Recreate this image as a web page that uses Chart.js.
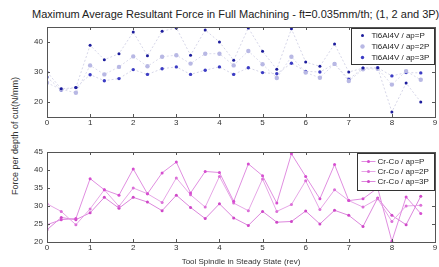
<!DOCTYPE html>
<html lang="en">
<head>
<meta charset="utf-8">
<title>Maximum Average Resultant Force</title>
<script src="https://cdn.jsdelivr.net/npm/chart.js"></script>
<style>
  body { margin: 0; background: #fff; width: 439px; height: 267px; overflow: hidden; position: relative; font-family: "Liberation Sans", Arial, sans-serif; }
  #title { position: absolute; left: 32px; top: 8px; font-size: 11px; color: #222; white-space: nowrap; }
  #ylab { position: absolute; left: 15px; top: 136px; transform: translate(-50%, -50%) rotate(-90deg); font-size: 9px; color: #333; white-space: nowrap; }
  .box { position: absolute; left: 0; width: 439px; }
  #c1box { top: 0; height: 130px; }
  #c2box { top: 135px; height: 132px; }
</style>
</head>
<body>
<div id="title">Maximum Average Resultant Force in Full Machining - ft=0.035mm/th; (1, 2 and 3P)</div>
<div id="ylab">Force per depth of cut(N/mm)</div>
<div class="box" id="c1box"><canvas id="chart1"></canvas></div>
<div class="box" id="c2box"><canvas id="chart2"></canvas></div>
<script>
// spindle revolutions
const revs = [0, 0.33, 0.67, 1, 1.33, 1.67, 2, 2.33, 2.67, 3, 3.33, 3.67, 4, 4.33, 4.67, 5, 5.33, 5.67, 6, 6.33, 6.67, 7, 7.33, 7.67, 8, 8.33, 8.67];

// Ti6Al4V
const tiP  = [30, 24.4, 24.8, 38.9, 34.1, 36.1, 43.3, 35.4, 43.6, 44.7, 35.6, 44.0, 40.0, 33.9, 44.7, 36.9, 30.9, 44.4, 33.3, 31.9, 39.3, 30.0, 31.3, 31.4, 16.7, 26.3, 20.0];
const ti2P = [26.4, 24.2, 23.1, 32.2, 29.2, 31.7, 35.2, 31.9, 35.1, 35.6, 32.8, 36.1, 36.1, 32.2, 37.0, 32.6, 28.0, 35.1, 29.8, 28.1, 32.7, 27.0, 30.9, 31.1, 25.8, 30.3, 27.4];
const ti3P = [28.3, 24.0, 24.8, 29.1, 27.1, 27.8, 30.8, 29.2, 31.1, 31.7, 29.2, 30.6, 31.7, 29.2, 31.4, 29.8, 29.4, 32.9, 30.2, 30.0, 32.7, 27.6, 31.3, 31.4, 28.7, 29.8, 29.7];

// Cr-Co
const crP  = [24.8, 26.2, 26.5, 37.6, 34.5, 33.0, 40.3, 33.4, 39.2, 42.2, 33.6, 39.6, 39.3, 31.3, 41.7, 38.4, 30.8, 44.5, 38.2, 32.0, 41.5, 31.5, 32.0, 35.0, 20.2, 32.5, 27.9];
const cr2P = [30.6, 28.5, 24.8, 29.2, 34.5, 29.9, 35.0, 33.4, 31.0, 37.8, 33.1, 29.7, 38.2, 30.8, 28.7, 37.5, 28.5, 30.4, 37.0, 29.0, 34.5, 31.5, 29.7, 32.0, 25.7, 30.0, 30.2];
const cr3P = [23.4, 26.8, 26.2, 28.1, 32.4, 29.4, 32.4, 31.1, 28.7, 33.0, 29.6, 26.5, 30.6, 26.7, 24.6, 28.5, 25.5, 25.7, 28.6, 25.0, 28.8, 27.4, 24.3, 32.2, 27.4, 24.8, 32.7];

const xTicks = [0, 1, 2, 3, 4, 5, 6, 7, 8, 9];
const yTicksTi = [20, 30, 40];
const yTicksCr = [20, 25, 30, 35, 40, 45];

function pts(ys) { return revs.map((x, i) => ({ x: x, y: ys[i] })); }

const font = { family: "'Liberation Sans', Arial, sans-serif", size: 8 };

// matlab style box, inward ticks and boxed legend
const frame = {
  id: 'frame',
  afterDraw(chart, args, opts) {
    const ctx = chart.ctx, a = chart.chartArea;
    const sx = chart.scales.x, sy = chart.scales.y;
    ctx.save();
    ctx.strokeStyle = '#555';
    ctx.lineWidth = 1;
    ctx.strokeRect(Math.round(a.left) + 0.5, Math.round(a.top) + 0.5, Math.round(a.width), Math.round(a.height));
    ctx.beginPath();
    sx.ticks.forEach(t => {
      const px = Math.round(sx.getPixelForValue(t.value)) + 0.5;
      ctx.moveTo(px, a.bottom); ctx.lineTo(px, a.bottom - 3);
      ctx.moveTo(px, a.top); ctx.lineTo(px, a.top + 3);
    });
    sy.ticks.forEach(t => {
      const py = Math.round(sy.getPixelForValue(t.value)) + 0.5;
      ctx.moveTo(a.left, py); ctx.lineTo(a.left + 3, py);
      ctx.moveTo(a.right, py); ctx.lineTo(a.right - 3, py);
    });
    ctx.stroke();

    // legend
    const L = opts.legend;
    const bx = Math.round(a.right - L.w) + 0.5, by = Math.round(a.top + 1) + 0.5;
    ctx.fillStyle = '#fff';
    ctx.fillRect(bx, by, L.w - 1, L.h);
    ctx.strokeStyle = '#333';
    ctx.strokeRect(bx, by, L.w - 1, L.h);
    ctx.font = "8px 'Liberation Sans', Arial, sans-serif";
    ctx.textBaseline = 'middle';
    chart.data.datasets.forEach((ds, i) => {
      const cy = by + L.first + i * L.step;
      if (L.line) {
        ctx.strokeStyle = ds.borderColor;
        ctx.setLineDash([]);
        ctx.beginPath(); ctx.moveTo(bx + 4, cy); ctx.lineTo(bx + 18, cy); ctx.stroke();
      }
      ctx.fillStyle = ds.pointBackgroundColor;
      ctx.beginPath(); ctx.arc(bx + 11, cy, ds.pointRadius, 0, Math.PI * 2); ctx.fill();
      ctx.fillStyle = '#222';
      ctx.fillText(ds.label, bx + L.text, cy);
    });
    ctx.restore();
  }
};

function makeOpts(ymin, ymax, yTicks, xTitle, padTop, xh, legend) {
  return {
    responsive: true,
    maintainAspectRatio: false,
    animation: false,
    layout: { padding: { left: 0, right: 4, top: padTop, bottom: 0 } },
    plugins: { legend: { display: false }, tooltip: { enabled: false }, frame: { legend: legend } },
    scales: {
      x: {
        type: 'linear', min: 0, max: 9,
        afterBuildTicks: s => { s.ticks = xTicks.map(v => ({ value: v })); },
        ticks: { font: font, color: '#333', padding: 1, maxRotation: 0 },
        grid: { display: false, drawTicks: false },
        border: { display: false },
        title: xTitle ? { display: true, text: xTitle, font: font, color: '#333', padding: { top: 2, bottom: 0 } } : { display: false },
        afterFit: s => { s.height = xh; }
      },
      y: {
        min: ymin, max: ymax,
        afterBuildTicks: s => { s.ticks = yTicks.map(v => ({ value: v })); },
        ticks: { font: font, color: '#333', padding: 4 },
        grid: { display: false, drawTicks: false },
        border: { display: false },
        afterFit: s => { s.width = 47; }
      }
    }
  };
}

new Chart(document.getElementById('chart1'), {
  type: 'line',
  data: {
    datasets: [
      { label: 'Ti6Al4V / ap=P', data: pts(tiP), borderColor: '#d6d6e8', borderWidth: 1, borderDash: [2, 2],
        pointRadius: 1.5, pointBackgroundColor: '#1c1c9c', pointBorderWidth: 0 },
      { label: 'Ti6Al4V / ap=2P', data: pts(ti2P), borderColor: '#dcdcec', borderWidth: 1, borderDash: [2, 2],
        pointRadius: 2.2, pointBackgroundColor: '#b8b8e4', pointBorderWidth: 0 },
      { label: 'Ti6Al4V / ap=3P', data: pts(ti3P), borderColor: '#d6d6e8', borderWidth: 1, borderDash: [2, 2],
        pointRadius: 1.7, pointBackgroundColor: '#3c3cc4', pointBorderWidth: 0 }
    ]
  },
  options: makeOpts(15, 45, yTicksTi, null, 27, 13, { w: 84, h: 36, first: 7, step: 11, text: 20, line: false }),
  plugins: [frame]
});

new Chart(document.getElementById('chart2'), {
  type: 'line',
  data: {
    datasets: [
      { label: 'Cr-Co / ap=P', data: pts(crP), borderColor: '#e08ee0', borderWidth: 1,
        pointRadius: 1.5, pointBackgroundColor: '#d64ed0', pointBorderWidth: 0 },
      { label: 'Cr-Co / ap=2P', data: pts(cr2P), borderColor: '#e6a6e6', borderWidth: 1,
        pointRadius: 1.5, pointBackgroundColor: '#dc70d8', pointBorderWidth: 0 },
      { label: 'Cr-Co / ap=3P', data: pts(cr3P), borderColor: '#dc86dc', borderWidth: 1,
        pointRadius: 1.5, pointBackgroundColor: '#cf48c8', pointBorderWidth: 0 }
    ]
  },
  options: makeOpts(20, 45, yTicksCr, 'Tool Spindle in Steady State (rev)', 17, 25, { w: 78, h: 37, first: 8, step: 10, text: 20, line: true }),
  plugins: [frame]
});
</script>
</body>
</html>
